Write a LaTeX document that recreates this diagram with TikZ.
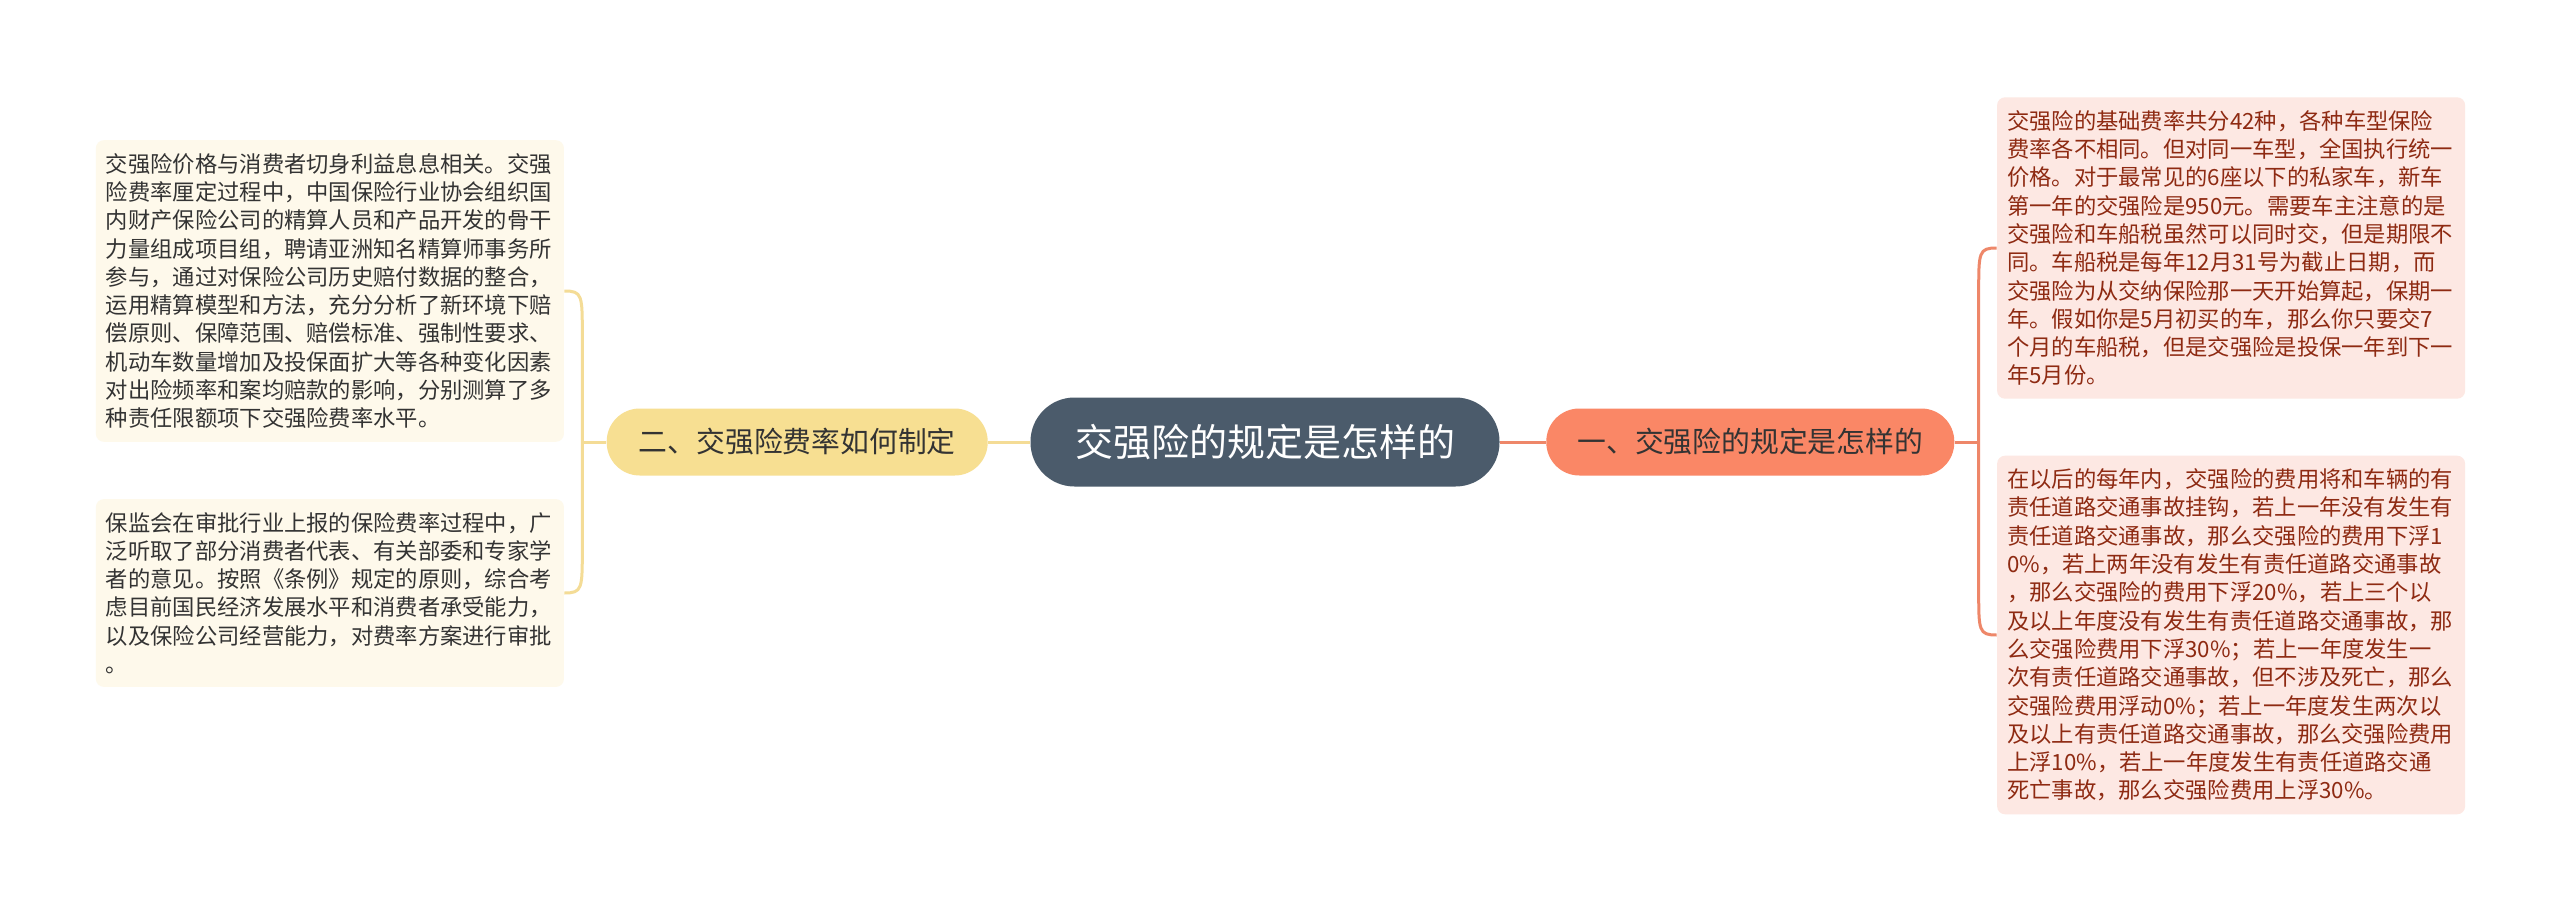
\documentclass[tikz,border=0pt]{standalone}
\usepackage{fontspec}
\setmainfont{Noto Sans CJK SC}
\usepackage{xcolor}
\usetikzlibrary{positioning,calc}
\definecolor{ardosia}{HTML}{4B5B6B}
\definecolor{amarelo}{HTML}{F7DF92}
\definecolor{salmao}{HTML}{FA8766}
\definecolor{creme}{HTML}{FEF9EB}
\definecolor{rosa}{HTML}{FDE8E3}
\definecolor{cinza}{HTML}{333333}
\definecolor{vinho}{HTML}{8E2A12}
\definecolor{linhaAmarela}{HTML}{F4DC96}
\definecolor{linhaSalmao}{HTML}{EE8769}
\tikzset{
    raiz/.style={
        rectangle,
        rounded corners=22pt,
        fill=ardosia,
        text=white,
        minimum width=234.5pt,
        minimum height=44.5pt,
        font=\fontsize{19pt}{23pt}\selectfont
    },
    ramo/.style={
        rectangle,
        rounded corners=16.5pt,
        minimum height=33.5pt,
        text=cinza,
        font=\fontsize{14.4pt}{17pt}\selectfont
    },
    ramoEsq/.style={ramo, fill=amarelo, minimum width=190.5pt},
    ramoDir/.style={ramo, fill=salmao, minimum width=204pt},
    folha/.style={
        rectangle,
        rounded corners=4pt,
        align=left,
        text width=224pt,
        inner xsep=5pt,
        inner ysep=6.5pt,
        font=\fontsize{11.15pt}{14.15pt}\selectfont
    },
    folhaEsq/.style={folha, fill=creme, text=cinza},
    folhaDir/.style={folha, fill=rosa, text=vinho},
    ligacaoEsq/.style={draw=linhaAmarela, line width=1.5pt},
    ligacaoDir/.style={draw=linhaSalmao, line width=1.5pt}
}

\begin{document}
\begin{tikzpicture}[x=0.5pt, y=-0.5pt]
    \useasboundingbox (0,0) rectangle (2560,915);
    \fill[white] (0,0) rectangle (2560,915);

    \node[raiz] (raiz) at (1265,442) {交强险的规定是怎样的};
    \node[ramoEsq, left=21pt of raiz] (ramoesq) {二、交强险费率如何制定};
    \node[ramoDir, right=23pt of raiz] (ramodir) {一、交强险的规定是怎样的};

    \node[folhaEsq, left=21pt of ramoesq, yshift=75.5pt] (esq1) {交强险价格与消费者切身利益息息相关。交强\\险费率厘定过程中，中国保险行业协会组织国\\内财产保险公司的精算人员和产品开发的骨干\\力量组成项目组，聘请亚洲知名精算师事务所\\参与，通过对保险公司历史赔付数据的整合，\\运用精算模型和方法，充分分析了新环境下赔\\偿原则、保障范围、赔偿标准、强制性要求、\\机动车数量增加及投保面扩大等各种变化因素\\对出险频率和案均赔款的影响，分别测算了多\\种责任限额项下交强险费率水平。};
    \node[folhaEsq, left=21pt of ramoesq, yshift=-75.5pt] (esq2) {保监会在审批行业上报的保险费率过程中，广\\泛听取了部分消费者代表、有关部委和专家学\\者的意见。按照《条例》规定的原则，综合考\\虑目前国民经济发展水平和消费者承受能力，\\以及保险公司经营能力，对费率方案进行审批\\。};

    \node[folhaDir, right=21pt of ramodir, yshift=97pt] (dir1) {交强险的基础费率共分42种，各种车型保险\\费率各不相同。但对同一车型，全国执行统一\\价格。对于最常见的6座以下的私家车，新车\\第一年的交强险是950元。需要车主注意的是\\交强险和车船税虽然可以同时交，但是期限不\\同。车船税是每年12月31号为截止日期，而\\交强险为从交纳保险那一天开始算起，保期一\\年。假如你是5月初买的车，那么你只要交7\\个月的车船税，但是交强险是投保一年到下一\\年5月份。};
    \node[folhaDir, right=21pt of ramodir, yshift=-96.5pt] (dir2) {在以后的每年内，交强险的费用将和车辆的有\\责任道路交通事故挂钩，若上一年没有发生有\\责任道路交通事故，那么交强险的费用下浮1\\0\%，若上两年没有发生有责任道路交通事故\\，那么交强险的费用下浮20\%，若上三个以\\及以上年度没有发生有责任道路交通事故，那\\么交强险费用下浮30\%；若上一年度发生一\\次有责任道路交通事故，但不涉及死亡，那么\\交强险费用浮动0\%；若上一年度发生两次以\\及以上有责任道路交通事故，那么交强险费用\\上浮10\%，若上一年度发生有责任道路交通\\死亡事故，那么交强险费用上浮30\%。};

    % ligacoes
    \coordinate (juntaEsq) at ([xshift=-12pt]ramoesq.west);
    \coordinate (juntaDir) at ([xshift=12pt]ramodir.east);
    \draw[ligacaoEsq] (raiz.west) -- (ramoesq.east);
    \draw[ligacaoDir] (raiz.east) -- (ramodir.west);
    \draw[ligacaoEsq] (ramoesq.west) -- (juntaEsq);
    \draw[ligacaoDir] (ramodir.east) -- (juntaDir);
    \draw[ligacaoEsq] (esq1.east) .. controls +(9pt,0pt) and +(0pt,20pt) .. ($(esq1.east -| juntaEsq)+(0pt,-22pt)$) -- ($(esq2.east -| juntaEsq)+(0pt,22pt)$) .. controls +(0pt,-20pt) and +(9pt,0pt) .. (esq2.east);
    \draw[ligacaoDir] (dir1.west) .. controls +(-9pt,0pt) and +(0pt,20pt) .. ($(dir1.west -| juntaDir)+(0pt,-22pt)$) -- ($(dir2.west -| juntaDir)+(0pt,22pt)$) .. controls +(0pt,-20pt) and +(-9pt,0pt) .. (dir2.west);
\end{tikzpicture}
\end{document}
